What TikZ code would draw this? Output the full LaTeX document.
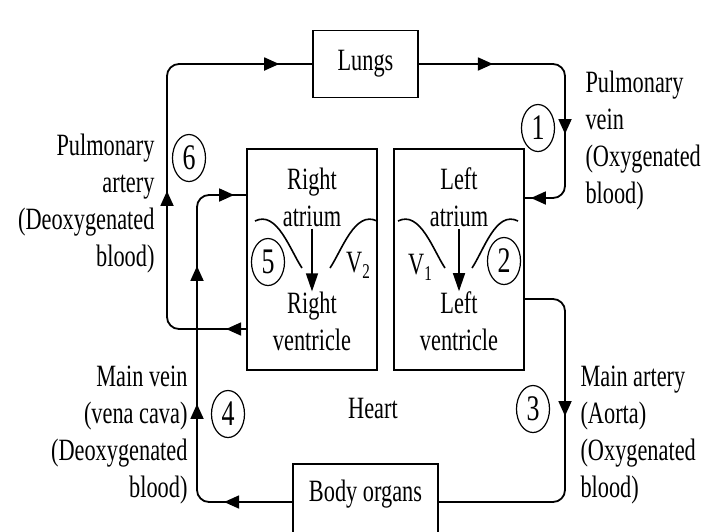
\documentclass[tikz,border=0pt]{standalone}
\usepackage{fontspec}
\setmainfont[FakeStretch=0.72]{Liberation Serif}
\usetikzlibrary{arrows.meta,shapes.geometric,decorations.markings,positioning}

\tikzset{
  organ/.style={draw,line width=1.8pt,inner sep=0pt},
  num/.style={draw,ellipse,line width=1.2pt,minimum width=33pt,minimum height=47pt,inner sep=0pt,font=\fontsize{36}{36}\selectfont},
  vessel/.style={draw,line width=1.8pt,rounded corners=12pt},
  flowmark/.style={postaction={decorate,decoration={markings,mark=at position #1 with {\arrow{Triangle[length=15pt,width=13pt]}}}}},
  valve/.style={draw,line width=1.6pt},
  chamber/.style={align=center,inner sep=0pt},
}
\newcommand{\vname}[1]{V\raisebox{-6pt}{\fontsize{21}{21}\selectfont #1}}

\begin{document}
\begin{tikzpicture}[x=1pt,y=-1pt,font=\fontsize{31}{37}\selectfont]
  \useasboundingbox (0,0) rectangle (703,531);

  % organs
  \node[organ,minimum width=105pt,minimum height=67pt] (lungs) at (365.5,64) {Lungs};
  \node[organ,minimum width=130pt,minimum height=221pt] (ra) at (312,259.5) {};
  \node[organ,minimum width=130pt,minimum height=221pt] (la) at (459,259.5) {};
  \node[organ,minimum width=145pt,minimum height=76pt] (body) at (365.5,502) {};
  \node (body-txt) at (365.5,494) {Body organs};

  % chambers
  \node[chamber] (ra-top) at (312,197) {Right\\atrium};
  \node[chamber] (ra-bot) at (312,321) {Right\\ventricle};
  \node[chamber] (la-top) at (459,197) {Left\\atrium};
  \node[chamber] (la-bot) at (459,321) {Left\\ventricle};
  \draw[line width=1.4pt,-{Triangle[length=18pt,width=12pt]},shorten <=2pt] (ra-top) -- (ra-bot);
  \draw[line width=1.4pt,-{Triangle[length=18pt,width=12pt]},shorten <=2pt] (la-top) -- (la-bot);

  % valves
  \draw[valve] (255,221) .. controls (277,210) and (290,250) .. (302,268);
  \draw[valve] (330,268) .. controls (342,250) and (355,210) .. (377,221);
  \draw[valve] (398,221) .. controls (420,210) and (433,250) .. (445,268);
  \draw[valve] (472,268) .. controls (484,250) and (496,210) .. (518,221);
  \node (v2) at (358,265) {\vname{2}};
  \node (v1) at (420,267) {\vname{1}};

  % ports and loop lines
  \coordinate (ra-in) at ([yshift=64.5pt]ra.west);
  \coordinate (ra-out) at ([yshift=-69.5pt]ra.west);
  \coordinate (la-in) at ([yshift=61.5pt]la.east);
  \coordinate (la-out) at ([yshift=-39.5pt]la.east);
  \coordinate (xpa) at (167,0);
  \coordinate (xvc) at (197,0);
  \coordinate (xpv) at (565,0);

  \draw[vessel,flowmark=20pt,flowmark=212pt,flowmark=446pt]
    (ra-out) -- (ra-out -| xpa) -- (lungs.west -| xpa) -- (lungs.west);
  \draw[vessel,flowmark=74pt,flowmark=211pt,flowmark=-6pt]
    (lungs.east) -- (lungs.east -| xpv) -- (la-in -| xpv) -- (la-in);
  \draw[vessel,flowmark=152pt]
    (la-out) -- (la-out -| xpv) -- (body.east -| xpv) -- (body.east);
  \draw[vessel,flowmark=68pt,flowmark=188pt,flowmark=326pt,flowmark=-12pt]
    (body.west) -- (body.west -| xvc) -- (ra-in -| xvc) -- (ra-in);

  % numbered steps
  \node[num] (n1) at (538,128) {1};
  \node[num] (n2) at (504,261) {2};
  \node[num] (n3) at (533,409) {3};
  \node[num] (n4) at (228,414) {4};
  \node[num] (n5) at (268,262) {5};
  \node[num] (n6) at (189,158) {6};

  % labels
  \node[anchor=east,align=right] (pa-txt) at (158,204) {Pulmonary\\artery\\(Deoxygenated\\blood)};
  \node[anchor=east,align=right] (vc-txt) at (191,435) {Main vein\\(vena cava)\\(Deoxygenated\\blood)};
  \node[anchor=west,align=left] (pv-txt) at (582,141) {Pulmonary\\vein\\(Oxygenated\\blood)};
  \node[anchor=west,align=left] (ao-txt) at (577,435) {Main artery\\(Aorta)\\(Oxygenated\\blood)};
  \node (heart) at (373,408) {Heart};
\end{tikzpicture}
\end{document}
